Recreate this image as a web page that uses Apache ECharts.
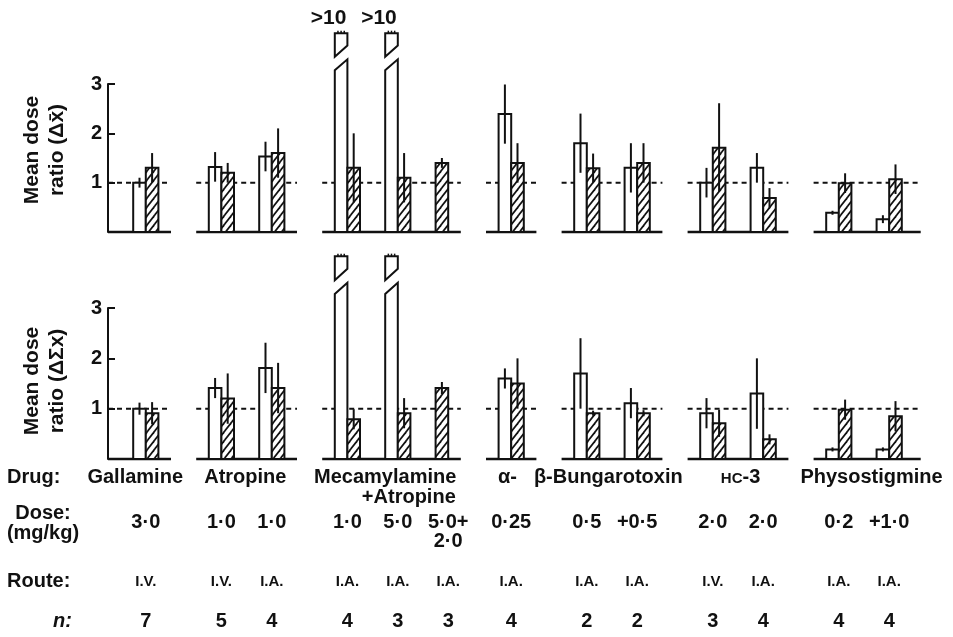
<!DOCTYPE html>
<html><head><meta charset="utf-8">
<script src="https://cdn.jsdelivr.net/npm/echarts@6/dist/echarts.min.js"></script>
<style>html,body{margin:0;padding:0;background:#fff}#c{width:953px;height:637px}</style>
</head><body><div id="c"></div>
<script>
// ---------------- data ----------------
const drugNames = ['Gallamine', 'Atropine', 'Mecamylamine', '+Atropine', 'α-', 'β-Bungarotoxin', 'HC-3', 'Physostigmine'];
const smallCapsPrefix = 'HC';
const doses = ['3·0', '1·0', '1·0', '1·0', '5·0', '5·0+\n2·0', '0·25', '0·5', '+0·5', '2·0', '2·0', '0·2', '+1·0'];
const routes = ['I.V.', 'I.V.', 'I.A.', 'I.A.', 'I.A.', 'I.A.', 'I.A.', 'I.A.', 'I.A.', 'I.V.', 'I.A.', 'I.A.', 'I.A.'];
const nValues = [7, 5, 4, 4, 3, 3, 4, 2, 2, 3, 4, 4, 4];
const yTicks = [0, 1, 2, 3];
const brokenText = '>10';
const brokenValue = 10; // bars shown broken, value > 10

// top panel: mean dose ratio (Δx̄)
const topOpen       = [1.0, 1.32, 1.53, 10, 10, null, 2.39, 1.8, 1.3, 1.0, 1.3, 0.39, 0.26];
const topOpenErr    = [0.1, 0.3, 0.3, 0, 0, null, 0.6, 0.6, 0.5, 0.3, 0.3, 0.04, 0.08];
const topHatched    = [1.3, 1.2, 1.6, 1.3, 1.1, 1.4, 1.4, 1.29, 1.4, 1.71, 0.69, 0.99, 1.07];
const topHatchedErr = [0.3, 0.2, 0.5, 0.7, 0.5, 0.1, 0.4, 0.3, 0.4, 0.9, 0.2, 0.2, 0.3];
// bottom panel: mean dose ratio (ΔΣx)
const botOpen       = [1.0, 1.41, 1.81, 10, 10, null, 1.6, 1.7, 1.11, 0.91, 1.3, 0.19, 0.19];
const botOpenErr    = [0.12, 0.2, 0.5, 0, 0, null, 0.2, 0.7, 0.3, 0.3, 0.7, 0.04, 0.04];
const botHatched    = [0.91, 1.2, 1.41, 0.79, 0.91, 1.41, 1.5, 0.91, 0.91, 0.71, 0.39, 0.98, 0.85];
const botHatchedErr = [0.22, 0.5, 0.5, 0.2, 0.3, 0.12, 0.5, 0.05, 0.06, 0.27, 0.1, 0.2, 0.3];

// ---------------- layout (slot units on hidden x value axis) ----------------
const pairSlot = [0, 6, 10, 16, 20, 23, 29, 35, 39, 45, 49, 55, 59];
const groupSpan = [[-2.5, 2.5], [4.5, 12.5], [14.5, 25.5], [27.5, 31.5], [33.5, 41.5], [43.5, 51.5], [53.5, 62]];
const drugLabelSlot = [-0.34, 8.4, 19.5, 25.1, 29.2, 31.3, 47.7, 58.1];
const drugLabelAlign = ['center', 'center', 'center', 'right', 'center', 'left', 'center', 'center'];
const drugLabelY = [477, 477, 477, 497, 477, 477, 477, 477];
const BREAK = {lowL: 3.28, lowR: 3.5, upL: 3.55, upR: 3.78, top: 4.03};
const FONT = '"Liberation Sans", Arial, Helvetica, sans-serif';
const INK = '#111';

// hatch pattern
const hatch = (function () {
  const w = 7, h = 9, c = document.createElement('canvas');
  c.width = w; c.height = h;
  const g = c.getContext('2d');
  g.fillStyle = '#fff'; g.fillRect(0, 0, w, h);
  g.strokeStyle = INK; g.lineWidth = 1.7;
  for (const dx of [-w, 0, w]) {
    g.beginPath(); g.moveTo(dx - w, 2 * h); g.lineTo(dx + 2 * w, -h); g.stroke();
  }
  return {image: c, repeat: 'repeat'};
})();

function barItems(vals, errs, offset) {
  const out = [];
  vals.forEach((v, i) => { if (v != null) out.push([pairSlot[i] + offset, v, errs[i]]); });
  return out;
}

function makeBarRender(hatched, showBrokenText) {
  return function (params, api) {
    const slot = api.value(0), v = api.value(1), e = api.value(2);
    const w = api.size([1, 0])[0];
    const base = api.coord([slot, 0]);
    const xc = base[0], y0 = base[1];
    const x0 = xc - w / 2, x1 = xc + w / 2;
    const st = {fill: hatched ? hatch : '#fff', stroke: INK, lineWidth: 2};
    const kids = [];
    if (v >= brokenValue) {
      const Y = (val) => api.coord([slot, val])[1];
      kids.push({type: 'polygon', shape: {points: [[x0, y0], [x0, Y(BREAK.lowL)], [x1, Y(BREAK.lowR)], [x1, y0]]}, style: st});
      const yt = Y(BREAK.top);
      kids.push({type: 'polygon', shape: {points: [[x0, Y(BREAK.upL)], [x0, yt], [x1, yt], [x1, Y(BREAK.upR)]]}, style: st});
      for (let k = 1; k <= 3; k++) {
        const xx = x0 + w * k / 4;
        kids.push({type: 'line', shape: {x1: xx, y1: yt, x2: xx, y2: yt - 2.5}, style: {stroke: INK, lineWidth: 1.5}});
      }
      if (showBrokenText) {
        kids.push({type: 'text', x: x1 - 1, y: yt - 15, style: {text: brokenText, font: 'bold 21px ' + FONT, fill: INK, textAlign: 'right', textVerticalAlign: 'middle', align: 'right', verticalAlign: 'middle'}});
      }
    } else {
      const yt = api.coord([slot, v])[1];
      kids.push({type: 'rect', shape: {x: x0, y: yt, width: w, height: y0 - yt}, style: st});
      if (e > 0) {
        const ya = api.coord([slot, v + e])[1], yb = api.coord([slot, Math.max(v - e, 0)])[1];
        kids.push({type: 'line', shape: {x1: xc, y1: ya, x2: xc, y2: yb}, style: {stroke: INK, lineWidth: 2}});
      }
    }
    return {type: 'group', children: kids};
  };
}

function groupLineRender(params, api) {
  const s = api.value(0), e = api.value(1);
  const a0 = api.coord([s, 0]), b0 = api.coord([e, 0]);
  const a1 = api.coord([s, 1]), b1 = api.coord([e, 1]);
  return {type: 'group', children: [
    {type: 'line', shape: {x1: a1[0], y1: a1[1], x2: b1[0], y2: b1[1]}, style: {stroke: INK, lineWidth: 2, lineDash: [5, 4]}},
    {type: 'line', shape: {x1: a0[0], y1: a0[1], x2: b0[0], y2: b0[1]}, style: {stroke: INK, lineWidth: 2.6}}
  ]};
}

function txt(x, y, text, font, align, extra) {
  return {type: 'text', x: x, y: y, style: Object.assign({text: text, font: font, fill: INK, textAlign: align, textVerticalAlign: 'middle', align: align, verticalAlign: 'middle'}, extra || {})};
}

function tableRender(params, api) {
  const i = params.dataIndex;
  const x = api.coord([api.value(0), 0])[0];
  const kids = [];
  doses[i].split('\n').forEach((line, k) => kids.push(txt(x, 522 + 19 * k, line, 'bold 20px ' + FONT, 'center')));
  kids.push(txt(x, 582, routes[i], 'bold 15px ' + FONT, 'center'));
  kids.push(txt(x, 621, String(nValues[i]), 'bold 20px ' + FONT, 'center'));
  return {type: 'group', children: kids};
}

function drugRender(params, api) {
  const i = params.dataIndex;
  const x = api.coord([api.value(0), 0])[0];
  const name = drugNames[i], y = drugLabelY[i];
  if (name.indexOf(smallCapsPrefix) === 0) {
    // small-caps prefix, baseline-aligned with the rest
    return {type: 'group', children: [
      txt(x + 2, y + 1.8, smallCapsPrefix, 'bold 15px ' + FONT, 'right'),
      txt(x + 2, y, name.slice(smallCapsPrefix.length), 'bold 20px ' + FONT, 'left')
    ]};
  }
  return txt(x, y, name, 'bold 20px ' + FONT, drugLabelAlign[i]);
}

const GW = 66 * 12.6;
const grids = [{left: 108, top: 84, width: GW, height: 148}, {left: 108, top: 308, width: GW, height: 151}];
const yAxisCommon = {
  type: 'value', min: 0, max: 3, interval: 1,
  axisLine: {show: true, onZero: false, lineStyle: {color: INK, width: 2}},
  axisTick: {show: true, inside: true, length: 7, lineStyle: {color: INK, width: 2}},
  axisLabel: {formatter: (v) => (v === yTicks[0] ? '' : String(v)), color: INK, fontSize: 20, fontWeight: 'bold', fontFamily: FONT, margin: 6},
  splitLine: {show: false}
};

const series = [];
[[topOpen, topOpenErr, topHatched, topHatchedErr], [botOpen, botOpenErr, botHatched, botHatchedErr]].forEach((p, gi) => {
  series.push({type: 'custom', xAxisIndex: gi, yAxisIndex: gi, renderItem: groupLineRender, data: groupSpan, silent: true, z: 1});
  series.push({type: 'custom', xAxisIndex: gi, yAxisIndex: gi, renderItem: makeBarRender(false, gi === 0), data: barItems(p[0], p[1], 0), silent: true, z: 2});
  series.push({type: 'custom', xAxisIndex: gi, yAxisIndex: gi, renderItem: makeBarRender(true, gi === 0), data: barItems(p[2], p[3], 1), silent: true, z: 3});
});
series.push({type: 'custom', xAxisIndex: 1, yAxisIndex: 1, renderItem: tableRender, silent: true,
  data: pairSlot.map((s, i) => [topOpen[i] == null ? s + 1.5 : s + 0.5])});
series.push({type: 'custom', xAxisIndex: 1, yAxisIndex: 1, renderItem: drugRender, silent: true,
  data: drugLabelSlot.map((s) => [s])});

const yTitle = (y, t) => ({type: 'text', x: 45, y: y, rotation: Math.PI / 2,
  style: {text: t, font: 'bold 21px ' + FONT, fill: INK, textAlign: 'center', textVerticalAlign: 'middle', align: 'center', verticalAlign: 'middle', lineHeight: 25}});

const chart = echarts.init(document.getElementById('c'), null, {renderer: 'canvas'});
chart.setOption({
  animation: false,
  backgroundColor: '#fff',
  grid: grids,
  xAxis: grids.map((g, i) => ({gridIndex: i, type: 'value', min: -2.5, max: 63.5, show: false})),
  yAxis: grids.map((g, i) => Object.assign({gridIndex: i}, yAxisCommon)),
  graphic: [
    yTitle(150, 'Mean dose\nratio (Δx̄)'),
    yTitle(381, 'Mean dose\nratio (ΔΣx)'),
    {type: 'text', x: 7, y: 477, style: {text: 'Drug:', font: 'bold 20px ' + FONT, fill: INK, textAlign: 'left', textVerticalAlign: 'middle', align: 'left', verticalAlign: 'middle'}},
    {type: 'text', x: 43, y: 513, style: {text: 'Dose:', font: 'bold 20px ' + FONT, fill: INK, textAlign: 'center', textVerticalAlign: 'middle', align: 'center', verticalAlign: 'middle'}},
    {type: 'text', x: 43, y: 533, style: {text: '(mg/kg)', font: 'bold 20px ' + FONT, fill: INK, textAlign: 'center', textVerticalAlign: 'middle', align: 'center', verticalAlign: 'middle'}},
    {type: 'text', x: 7, y: 581, style: {text: 'Route:', font: 'bold 20px ' + FONT, fill: INK, textAlign: 'left', textVerticalAlign: 'middle', align: 'left', verticalAlign: 'middle'}},
    {type: 'text', x: 72, y: 621, style: {text: 'n:', font: 'italic bold 20px ' + FONT, fill: INK, textAlign: 'right', textVerticalAlign: 'middle', align: 'right', verticalAlign: 'middle'}}
  ],
  series: series
});
</script></body></html>
